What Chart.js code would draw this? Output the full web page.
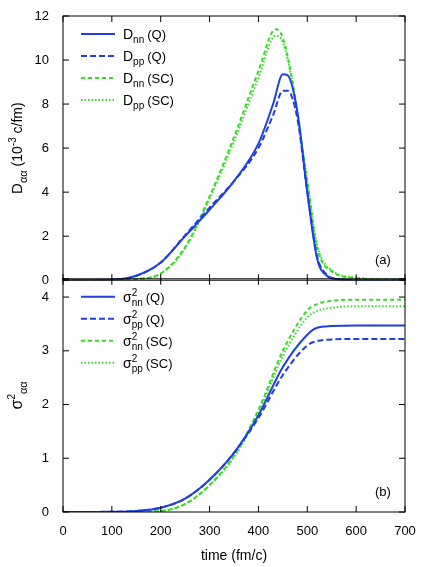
<!DOCTYPE html><html><head><script src="https://cdn.jsdelivr.net/npm/chart.js"></script>
<style>body{margin:0;background:#fff}div{position:absolute;left:0;width:436px}</style></head><body>
<div style="top:0;height:294px"><canvas id="c1"></canvas></div>
<div style="top:265px;height:302px"><canvas id="c2"></canvas></div>
<script>
const tX=[0,100,150,200,250,300,350,400,430,450,460,480,500,520,540,560,600,700];
const dnnQ=[0,0.02,0.2,0.8,2.0,3.2,4.5,6.2,8.0,9.35,9.3,7.6,4.0,1.0,0.2,0.05,0,0];
const dppQ=[0,0.02,0.2,0.8,2.05,3.3,4.5,6.0,7.5,8.6,8.6,7.3,4.0,1.1,0.25,0.06,0,0];
const tX2=[0,100,150,200,250,300,350,400,435,450,470,500,520,550,600,700];
const dnnSC=[0,0,0.05,0.3,1.5,3.8,6.5,9.5,11.4,11.0,9.0,4.5,1.5,0.4,0.1,0];
const dppSC=[0,0,0.05,0.3,1.45,3.7,6.3,9.2,11.1,10.8,8.9,4.5,1.6,0.45,0.12,0];
const sX=[0,100,150,200,250,300,350,400,450,500,520,550,600,700];
const snnQ=[0,0.005,0.02,0.08,0.25,0.6,1.1,1.8,2.7,3.3,3.43,3.46,3.47,3.47];
const sppQ=[0,0.005,0.02,0.08,0.25,0.6,1.1,1.75,2.55,3.1,3.18,3.21,3.22,3.22];
const snnSC=[0,0,0.005,0.02,0.15,0.5,1.05,1.9,3.0,3.75,3.87,3.93,3.95,3.95];
const sppSC=[0,0,0.005,0.02,0.15,0.5,1.02,1.85,2.9,3.62,3.74,3.8,3.83,3.83];
const B='#1f3fe0',G='#33dd22';
const pts=(xs,ys)=>xs.map((x,i)=>({x,y:ys[i]}));
function ds(l,xs,ys,c,dash){return{label:l,data:pts(xs,ys),borderColor:c,borderWidth:2,borderDash:dash,pointRadius:0,tension:0.4,cubicInterpolationMode:'monotone'};}
const deco={id:'deco',afterDraw(ch,a,o){const c=ch.ctx,ca=ch.chartArea;c.save();c.strokeStyle='#000';c.lineWidth=1;
 for(const id of ['x','y']){const s=ch.scales[id];s.ticks.forEach(t=>{const p=s.getPixelForValue(t.value);c.beginPath();
  if(id=='x'){c.moveTo(p,ca.bottom);c.lineTo(p,ca.bottom-6);c.moveTo(p,ca.top);c.lineTo(p,ca.top+6);}
  else{c.moveTo(ca.left,p);c.lineTo(ca.left+6,p);c.moveTo(ca.right,p);c.lineTo(ca.right-6,p);}c.stroke();});}
 c.strokeRect(ca.left,ca.top,ca.right-ca.left,ca.bottom-ca.top);
 c.fillStyle='#000';c.font='13px "Liberation Sans"';c.textAlign='left';c.fillText(o.tag,ca.right-30,ca.bottom-16);
 o.leg.forEach((L,i)=>{const y=ca.top+18+i*22,x0=ca.left+18;const d=ch.data.datasets[i];c.strokeStyle=d.borderColor;c.lineWidth=2;c.setLineDash(d.borderDash||[]);
  c.beginPath();c.moveTo(x0,y);c.lineTo(x0+34,y);c.stroke();c.setLineDash([]);let x=x0+42;
  c.font='14px "Liberation Sans"';c.fillText(o.base,x,y+5);x+=c.measureText(o.base).width;
  c.font='10px "Liberation Sans"';if(o.sup){c.fillText('2',x,y-1);}c.fillText(L[0],x,y+9);x+=c.measureText(L[0]).width+3;
  c.font='13px "Liberation Sans"';c.fillText(L[1],x,y+5);});
 c.translate(22,(ca.top+ca.bottom)/2);c.rotate(-Math.PI/2);c.textAlign='left';
 const parts=o.yt;let w=0;parts.forEach(p=>{c.font=p[1];w+=c.measureText(p[0]).width;});let x=-w/2;
 parts.forEach(p=>{c.font=p[1];c.fillText(p[0],x,p[2]);x+=c.measureText(p[0]).width;});c.restore();}};
function opts(ymax,step,showX,extra){return{responsive:true,maintainAspectRatio:false,animation:false,
 layout:{padding:{top:showX?0:16,right:31,left:0,bottom:0}},
 plugins:{legend:{display:false},tooltip:{enabled:false},deco:extra},
 scales:{x:{type:'linear',min:0,max:700,grid:{display:false},border:{display:false},
   ticks:{display:showX,stepSize:100,color:'#000',font:{size:13,family:'Liberation Sans'},padding:4},
   title:{display:showX,text:'time (fm/c)',color:'#000',font:{size:14,family:'Liberation Sans'},padding:2},
   afterFit(s){s.height=showX?55:0;}},
  y:{min:0,max:ymax,grid:{display:false},border:{display:false},
   ticks:{stepSize:step,color:'#000',font:{size:13,family:'Liberation Sans'},padding:6,callback:v=>(v>ymax-0.01&&ymax%1)?'':v},
   afterFit(s){s.width=63;}}}};}
new Chart(c1,{type:'line',data:{datasets:[ds('a',tX,dnnQ,B,[]),ds('b',tX,dppQ,B,[6,3]),ds('c',tX2,dnnSC,G,[4,3]),ds('d',tX2,dppSC,G,[1.5,2])]},
 options:opts(12,2,false,{tag:'(a)',base:'D',sup:false,leg:[['nn','(Q)'],['pp','(Q)'],['nn','(SC)'],['pp','(SC)']],
 yt:[['D','15px "Liberation Sans"',0],['αα','11px "Liberation Sans"',5],[' (10','14px "Liberation Sans"',0],['-3','10px "Liberation Sans"',-6],[' c/fm)','14px "Liberation Sans"',0]]}),plugins:[deco]});
new Chart(c2,{type:'line',data:{datasets:[ds('a',sX,snnQ,B,[]),ds('b',sX,sppQ,B,[6,3]),ds('c',sX,snnSC,G,[4,3]),ds('d',sX,sppSC,G,[1.5,2])]},
 options:opts(4.34,1,true,{tag:'(b)',base:'σ',sup:true,leg:[['nn','(Q)'],['pp','(Q)'],['nn','(SC)'],['pp','(SC)']],
 yt:[['σ','16px "Liberation Sans"',0],['2','10px "Liberation Sans"',-7],['αα','11px "Liberation Sans"',5]]}),plugins:[deco]});
</script></body></html>
